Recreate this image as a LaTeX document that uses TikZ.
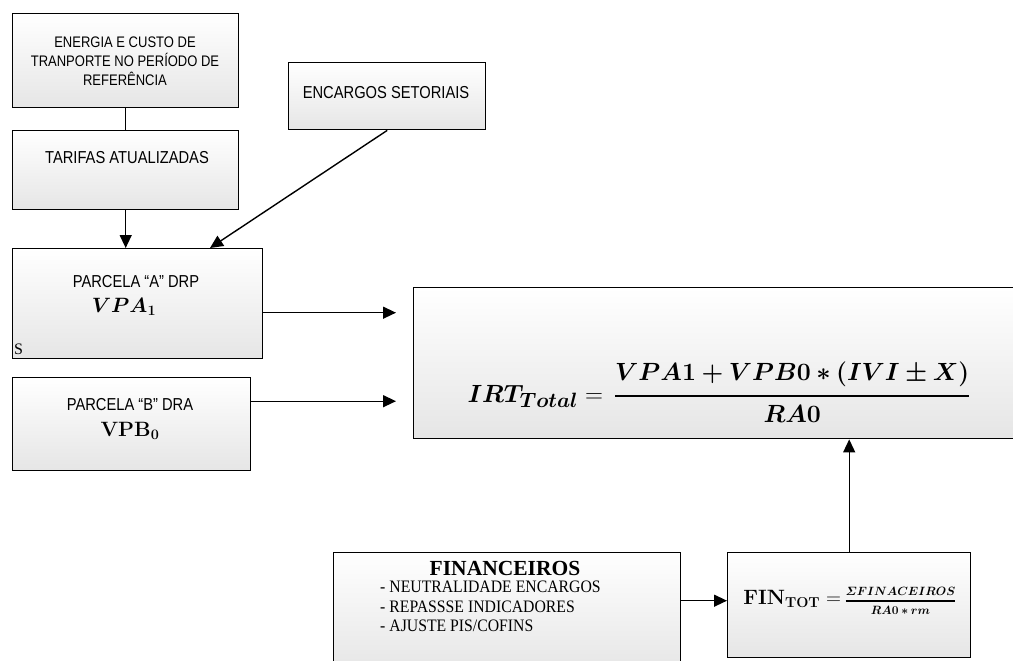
\documentclass[tikz,border=0pt]{standalone}
\usepackage{amsmath}
\usepackage{bm}
\usepackage[no-math]{fontspec}
\setmainfont{Liberation Sans}
\newfontfamily\narrowsans[FakeStretch=0.85]{Liberation Sans}
\newfontfamily\timesf{Liberation Serif}
\newfontfamily\timesn[FakeStretch=0.9]{Liberation Serif}
\usetikzlibrary{arrows.meta,calc}
\tikzset{
  box/.style={draw=black, line width=1.4pt, top color=white, bottom color=black!10,
    anchor=north west, inner sep=0pt},
  conn/.style={line width=1.4pt},
  arr/.style={line width=1.4pt, -{Triangle[length=13pt,width=12pt]}},
  lblsmall/.style={font=\narrowsans\fontsize{15.3}{19}\selectfont, align=center, inner sep=0pt},
  lbl/.style={font=\narrowsans\fontsize{17.3}{25}\selectfont, align=center, inner sep=0pt},
  serif/.style={font=\timesf, inner sep=0pt},
}
\begin{document}
\begin{tikzpicture}[x=1pt,y=-1pt]
\useasboundingbox (0,0) rectangle (1013,661);
\clip (0,0) rectangle (1013,661);
% boxes
\node[box, minimum width=226pt, minimum height=94pt] (b1) at (12,13) {};
\node[box, minimum width=226pt, minimum height=79pt] (b2) at (12,130) {};
\node[box, minimum width=250pt, minimum height=110pt] (b3) at (12,248) {};
\node[box, minimum width=197pt, minimum height=67pt] (enc) at (288,62) {};
\node[box, minimum width=238pt, minimum height=93pt] (b4) at (12,377) {};
\node[box, minimum width=630pt, minimum height=151pt] (irt) at (413,287) {};
\node[box, minimum width=347pt, minimum height=120pt] (fcs) at (333,552) {};
\node[box, minimum width=243pt, minimum height=105pt] (fin) at (727,552) {};
% texts
\node[lblsmall] (t1) at (125,61) {ENERGIA E CUSTO DE\\TRANPORTE NO PERÍODO DE\\REFERÊNCIA};
\node[lbl] (t2) at (127,158) {TARIFAS ATUALIZADAS};
\node[lbl] (t3) at (136,282) {PARCELA “A” DRP};
\node[inner sep=0pt, font=\fontsize{20}{24}\selectfont] (t3m) at (124,307) {$\bm{VPA_1}$};
\node[serif, font=\timesf\fontsize{16}{18}\selectfont, anchor=base west] (s) at (14,354) {S};
\node[lbl] (t5) at (386,93) {ENCARGOS SETORIAIS};
\node[lbl] (t4) at (130,405) {PARCELA “B” DRA};
\node[inner sep=0pt, font=\fontsize{21}{24}\selectfont] (t4m) at (130,431) {$\mathbf{VPB_0}$};
\node[inner sep=0pt, font=\fontsize{30}{36}\selectfont] (irtf) at (719,392)
  {$\displaystyle \bm{IRT_{Total}} = \,\genfrac{}{}{2.6pt}{0}{\bm{VPA1+VPB0*(IVI\pm X)}}{\bm{RA0}}$};
\node[serif, font=\timesf\bfseries\fontsize{21.5}{24}\selectfont] (ft) at (505,568) {FINANCEIROS};
\node[serif, font=\timesn\fontsize{17.5}{19.5}\selectfont, align=left, anchor=north west] (fl) at (380,581)
  {- NEUTRALIDADE ENCARGOS\\- REPASSSE INDICADORES\\- AJUSTE PIS/COFINS};
\node[inner sep=0pt, anchor=base] (finf) at (850,604)
  {{\fontsize{20}{24}\selectfont$\mathbf{FIN}_{\mathbf{TOT}} =\,$}{\fontsize{12.5}{15}\selectfont$\displaystyle\genfrac{}{}{1.6pt}{0}{\bm{\varSigma FINACEIROS}}{\bm{RA0*rm}}$}};
% connectors
\draw[conn] (b1.south) -- (b2.north);
\draw[arr] (b2.south) -- (b2.south |- b3.north);
\coordinate (b3in) at ($(b3.north west)+(198,0)$);
\draw[arr] (enc.south) -- (b3in);
\coordinate (a1) at ($(b3.east)+(0,9)$);
\draw[arr, shorten >=17pt] (a1) -- (a1 -| irt.west);
\coordinate (a2) at ($(b4.east)+(0,-23)$);
\draw[arr, shorten >=17pt] (a2) -- (a2 -| irt.west);
\draw[arr] (fin.north) -- (fin.north |- irt.south);
\coordinate (a3) at ($(fcs.east)+(0,-12)$);
\draw[arr] (a3) -- (a3 -| fin.west);
\end{tikzpicture}
\end{document}
